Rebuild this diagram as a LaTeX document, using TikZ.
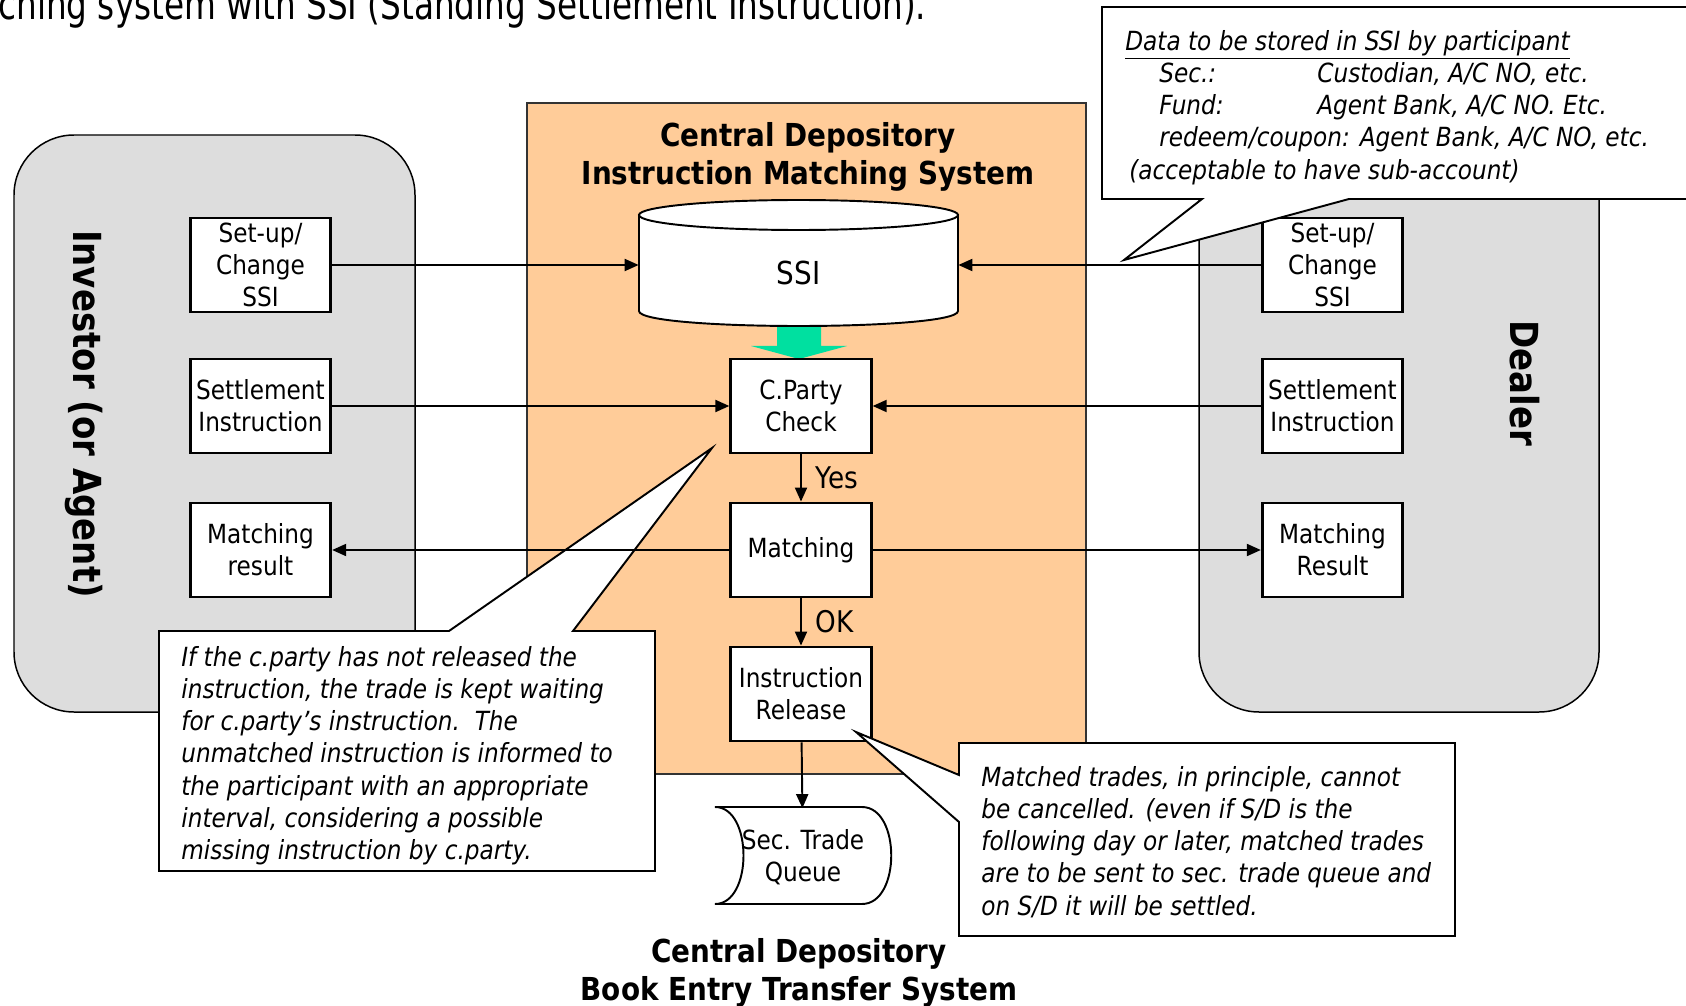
\documentclass[tikz,border=0pt]{standalone}
\usepackage{fontspec}
\setmainfont[FakeStretch=0.88]{DejaVu Sans}
\newfontfamily\narrowfont[FakeStretch=0.775]{DejaVu Sans}
\usetikzlibrary{arrows.meta}
\definecolor{depo}{HTML}{FFCC99}
\definecolor{partygray}{HTML}{DDDDDD}
\definecolor{pipe}{HTML}{00E0A0}

\begin{document}
\begin{tikzpicture}[x=0.2mm,y=-0.2mm,
    party/.style={draw, line width=0.85pt, fill=partygray, rounded corners=1.2cm},
    box/.style={draw, line width=1.6pt, fill=white, minimum width=2.81cm, minimum height=1.88cm, inner sep=0pt, align=center, font=\fontsize{15}{18.3}\selectfont},
    flow/.style={line width=1.1pt, -{Triangle[length=2.8mm,width=2.4mm]}},
    note/.style={draw, line width=1.1pt, fill=white},
    notetext/.style={anchor=north west, align=left, inner sep=0pt, font=\fontsize{15}{18.3}\selectfont\itshape},
    heading/.style={align=center, inner sep=0pt, font=\fontsize{18}{21.4}\selectfont\bfseries},
    side/.style={rotate=-90, inner sep=0pt, font=\fontsize{22}{26}\selectfont\bfseries},
    tag/.style={midway, anchor=west, inner sep=0pt, xshift=0.27cm, font=\fontsize{17}{20}\selectfont}]
    \useasboundingbox (0,0) rectangle (1686,1006);

    \node[anchor=base west, inner sep=0pt, font=\narrowfont\fontsize{24}{28}\selectfont] (caption) at (-2,20) {ching system with SSI (Standing Settlement Instruction).};

    \draw[party] (14,135) rectangle (415,712);
    \draw[party] (1199,135) rectangle (1599,712);
    \draw[fill=depo, draw=black!80, line width=0.8pt] (527,103) rectangle (1086,774);

    \node[side] (investor) at (84,414) {Investor (or Agent)};
    \node[side] (dealer) at (1525,383) {Dealer};
    \node[heading] (imstitle) at (808,157) {Central Depository\\Instruction Matching System};
    \node[heading] (betitle) at (799,973) {Central Depository\\Book Entry Transfer System};

    \fill[pipe] (777,320) -- (821,320) -- (821,346) -- (847,346) -- (799,359) -- (751,346) -- (777,346) -- cycle;
    \draw[line width=1.1pt, fill=white] (639,215) -- (639,311) .. controls (639,331) and (958,331) .. (958,311) -- (958,215) -- cycle;
    \draw[line width=1.1pt, fill=white] (798.5,215) ellipse[x radius=3.19cm, y radius=0.3cm];
    \node[minimum width=6.38cm, minimum height=2.24cm, inner sep=0pt, text height=0.86cm, font=\fontsize{18}{21}\selectfont] (ssi) at (798.5,263) {SSI};
    \draw[line width=1.1pt, fill=white] (715,807) -- (862,807) .. controls (901,807) and (901,904) .. (862,904) -- (715,904) .. controls (753,904) and (753,807) .. (715,807) -- cycle;
    \node[minimum width=3.52cm, minimum height=1.94cm, inner sep=0pt, align=center, font=\fontsize{15}{18.3}\selectfont] (queue) at (803,857) {Sec. Trade\\Queue};

    \node[box] (lsetup) at (260.5,265) {Set-up/\\Change\\SSI};
    \node[box] (lsettle) at (260.5,406) {Settlement\\Instruction};
    \node[box] (lresult) at (260.5,550) {Matching\\result};
    \node[box] (rsetup) at (1332.5,265) {Set-up/\\Change\\SSI};
    \node[box] (rsettle) at (1332.5,406) {Settlement\\Instruction};
    \node[box] (rresult) at (1332.5,550) {Matching\\Result};
    \node[box] (cpcheck) at (801,406) {C.Party\\Check};
    \node[box] (match) at (801,550) {Matching};
    \node[box] (release) at (801,694) {Instruction\\Release};

    \draw[note] (159,631) -- (449,631) -- (712,448) -- (573,631) -- (655,631) -- (655,871) -- (159,871) -- cycle;
    \draw[note] (959,743) -- (1455,743) -- (1455,936) -- (959,936) -- (959,822) -- (856,732) -- (959,775) -- cycle;
    \draw[note] (1102,7) -- (1700,7) -- (1700,199) -- (1349,199) -- (1124,260) -- (1202,199) -- (1102,199) -- cycle;

    \node[notetext] (waitnote) at (181,646) {If the c.party has not released the\\instruction, the trade is kept waiting\\for c.party’s instruction.\ \ The\\unmatched instruction is informed to\\the participant with an appropriate\\interval, considering a possible\\missing instruction by c.party.};
    \node[notetext] (matchnote) at (981,766) {Matched trades, in principle, cannot\\be cancelled. (even if S/D is the\\following day or later, matched trades\\are to be sent to sec. trade queue and\\on S/D it will be settled.};
    \node[notetext] (ssinote) at (1125,30) {\underline{Data to be stored in SSI by participant}\\
        \hspace*{0.68cm}\makebox[3.16cm][l]{Sec.:}Custodian, A/C NO, etc.\\
        \hspace*{0.68cm}\makebox[3.16cm][l]{Fund:}Agent Bank, A/C NO. Etc.\\
        \hspace*{0.68cm}redeem/coupon: Agent Bank, A/C NO, etc.\\
        \hspace*{0.08cm}(acceptable to have sub-account)};

    \draw[flow] (lsetup.east) -- (lsetup.east -| ssi.west);
    \draw[flow] (rsetup.west) -- (rsetup.west -| ssi.east);
    \draw[flow] (lsettle) -- (cpcheck);
    \draw[flow] (rsettle) -- (cpcheck);
    \draw[flow] (match) -- (lresult);
    \draw[flow] (match) -- (rresult);
    \draw[flow] (cpcheck) -- node[tag] (yeslabel) {Yes} (match);
    \draw[flow] (match) -- node[tag] (oklabel) {OK} (release);
    \draw[flow] (release) -- (queue);
\end{tikzpicture}
\end{document}
